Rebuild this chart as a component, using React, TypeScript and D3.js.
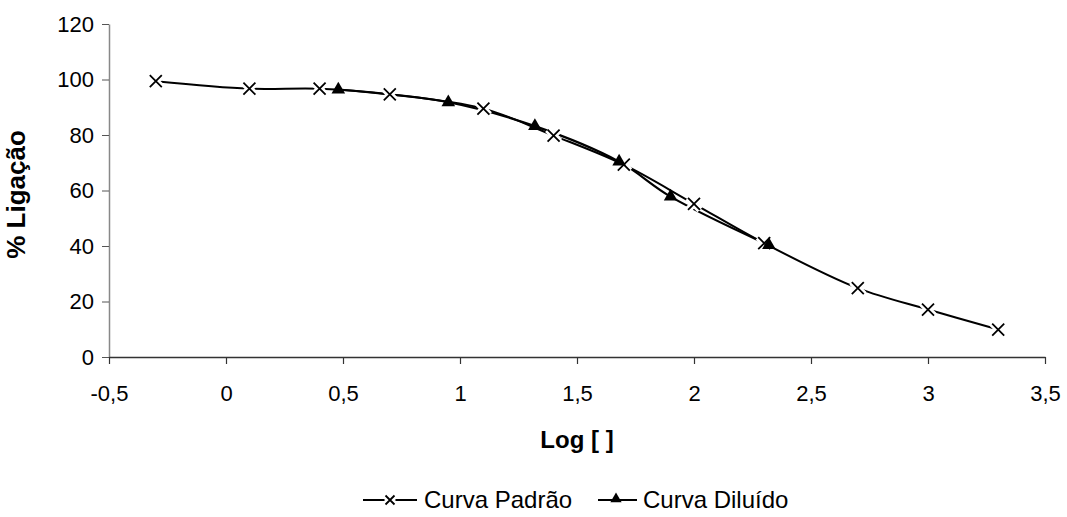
import { useEffect, useRef } from 'react';
import * as d3 from 'd3';

// Curva Padrão (standard curve)
const standardX = [-0.3, 0.1, 0.4, 0.7, 1.1, 1.4, 1.7, 2.0, 2.3, 2.7, 3.0, 3.3];
const standardY = [99.4, 96.7, 96.7, 94.6, 89.5, 79.8, 69.3, 55.2, 41.0, 24.8, 17.1, 9.9];

// Curva Diluído (diluted sample)
const dilutedX = [0.48, 0.95, 1.32, 1.68, 1.9, 2.32];
const dilutedY = [96.4, 91.8, 83.2, 70.4, 57.8, 40.3];

const xTicks = [-0.5, 0, 0.5, 1, 1.5, 2, 2.5, 3, 3.5];
const xTickLabels = ['-0,5', '0', '0,5', '1', '1,5', '2', '2,5', '3', '3,5'];
const yTicks = [0, 20, 40, 60, 80, 100, 120];

const seriesNames = ['Curva Padrão', 'Curva Diluído'];

const width = 1067;
const height = 517;
const font = '"Liberation Sans", Arial, sans-serif';

export default function App() {
    const chart = useRef(null);

    useEffect(() => {
        const svg = d3.select(chart.current);
        svg.selectAll('*').remove();

        const xScale = d3.scaleLinear().domain([-0.5, 3.5]).range([109, 1045]);
        const yScale = d3.scaleLinear().domain([0, 120]).range([357, 24]);

        // y axis
        const yAxisG = svg.append('g').attr('transform', `translate(${xScale(-0.5)},0)`);
        yAxisG
            .call(d3.axisLeft(yScale).tickValues(yTicks).tickSize(7).tickPadding(8).tickSizeOuter(0))
            .call((g) => g.select('.domain').attr('stroke', '#888').attr('stroke-width', 1.5))
            .call((g) => g.selectAll('.tick line').attr('stroke', '#555').attr('stroke-width', 1))
            .call((g) =>
                g.selectAll('.tick text').attr('font-size', 22).attr('font-family', font).attr('fill', '#000')
            );

        // x axis
        const xAxisG = svg.append('g').attr('transform', `translate(0,${yScale(0)})`);
        xAxisG
            .call(
                d3
                    .axisBottom(xScale)
                    .tickValues(xTicks)
                    .tickFormat((_d, i) => xTickLabels[i])
                    .tickSize(7)
                    .tickPadding(21)
                    .tickSizeOuter(0)
            )
            .call((g) => g.select('.domain').attr('stroke', '#333').attr('stroke-width', 1.5))
            .call((g) => g.selectAll('.tick line').attr('stroke', '#333').attr('stroke-width', 1.2))
            .call((g) =>
                g.selectAll('.tick text').attr('font-size', 22).attr('font-family', font).attr('fill', '#000')
            );

        // axis titles
        svg.append('text')
            .attr('x', (xScale(-0.5) + xScale(3.5)) / 2)
            .attr('y', 448)
            .attr('text-anchor', 'middle')
            .attr('font-family', font)
            .attr('font-weight', 'bold')
            .attr('font-size', 24)
            .text('Log [ ]');

        svg.append('text')
            .attr('transform', `translate(25,${(yScale(0) + yScale(120)) / 2 + 4}) rotate(-90)`)
            .attr('text-anchor', 'middle')
            .attr('font-family', font)
            .attr('font-weight', 'bold')
            .attr('font-size', 26)
            .text('% Ligação');

        const standard = standardX.map((x, i) => [x, standardY[i]]);
        const diluted = dilutedX.map((x, i) => [x, dilutedY[i]]);

        const line = d3
            .line()
            .x((d) => xScale(d[0]))
            .y((d) => yScale(d[1]))
            .curve(d3.curveCatmullRom.alpha(0.5));

        svg.append('path')
            .attr('d', line(standard))
            .attr('fill', 'none')
            .attr('stroke', '#000')
            .attr('stroke-width', 2);

        svg.append('path')
            .attr('d', line(diluted))
            .attr('fill', 'none')
            .attr('stroke', '#000')
            .attr('stroke-width', 2.2);

        // X markers, with a white halo that breaks the lines like in Excel
        const drawCross = (g, cx, cy, r, halo) => {
            const p = `M${cx - r},${cy - r}L${cx + r},${cy + r}M${cx - r},${cy + r}L${cx + r},${cy - r}`;
            if (halo) {
                g.append('path').attr('d', p).attr('stroke', '#fff').attr('stroke-width', 7);
            }
            g.append('path').attr('d', p).attr('stroke', '#000').attr('stroke-width', 1.8);
        };

        const marks = svg.append('g');
        standard.forEach((d) => drawCross(marks, xScale(d[0]), yScale(d[1]), 6, true));

        const tri = d3.symbol().type(d3.symbolTriangle).size(80);
        svg.append('g')
            .selectAll('path')
            .data(diluted)
            .join('path')
            .attr('d', tri)
            .attr('transform', (d) => `translate(${xScale(d[0])},${yScale(d[1])})`)
            .attr('fill', '#000');

        // legend
        const legend = svg.append('g').attr('font-family', font).attr('font-size', 24);
        const ly = 500;
        legend.append('line').attr('x1', 363).attr('x2', 417).attr('y1', ly).attr('y2', ly).attr('stroke', '#000').attr('stroke-width', 2);
        drawCross(legend, 390, ly, 4.5, true);
        legend.append('text').attr('x', 424).attr('y', 508).text(seriesNames[0]);

        legend.append('line').attr('x1', 598).attr('x2', 637).attr('y1', ly).attr('y2', ly).attr('stroke', '#000').attr('stroke-width', 2);
        legend.append('path').attr('d', d3.symbol().type(d3.symbolTriangle).size(55)).attr('transform', `translate(616,${ly - 1})`);
        legend.append('text').attr('x', 643).attr('y', 508).text(seriesNames[1]);
    }, []);

    return (
        <svg
            ref={chart}
            width={width}
            height={height}
            style={{ position: 'fixed', left: 0, top: 0, background: '#fff' }}
        />
    );
}
